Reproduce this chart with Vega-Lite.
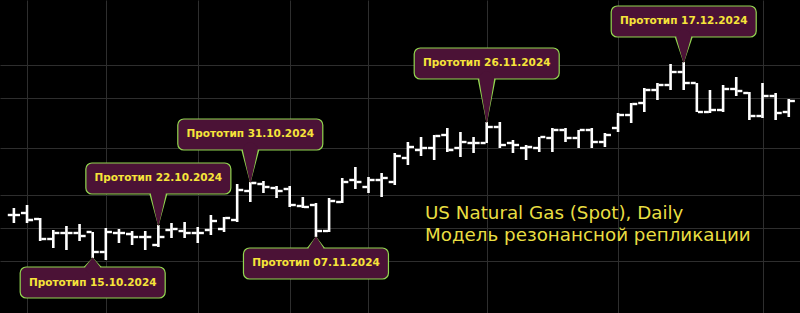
{
  "$schema": "https://vega.github.io/schema/vega-lite/v6.json",
  "width": 800,
  "height": 313,
  "autosize": {"type": "fit", "contains": "padding"},
  "padding": 0,
  "background": "#000000",
  "config": {
    "view": {"stroke": null},
    "axis": {"grid": true, "gridColor": "#2e2e2e", "gridWidth": 1, "labels": false, "ticks": false, "domain": false, "title": null}
  },
  "datasets": {
    "ohlc": [
      {"date": "2024-10-07", "n": 0, "open": 2.186, "high": 2.235, "low": 2.130, "close": 2.186},
      {"date": "2024-10-08", "n": 1, "open": 2.200, "high": 2.256, "low": 2.130, "close": 2.151},
      {"date": "2024-10-09", "n": 2, "open": 2.158, "high": 2.165, "low": 2.004, "close": 2.018},
      {"date": "2024-10-10", "n": 3, "open": 2.018, "high": 2.081, "low": 1.955, "close": 2.060},
      {"date": "2024-10-11", "n": 4, "open": 2.060, "high": 2.109, "low": 1.941, "close": 2.060},
      {"date": "2024-10-14", "n": 5, "open": 2.060, "high": 2.123, "low": 2.004, "close": 2.039},
      {"date": "2024-10-15", "n": 6, "open": 2.067, "high": 2.067, "low": 1.885, "close": 1.927},
      {"date": "2024-10-16", "n": 7, "open": 1.927, "high": 2.095, "low": 1.871, "close": 2.067},
      {"date": "2024-10-17", "n": 8, "open": 2.060, "high": 2.088, "low": 1.990, "close": 2.060},
      {"date": "2024-10-18", "n": 9, "open": 2.053, "high": 2.074, "low": 1.976, "close": 2.032},
      {"date": "2024-10-21", "n": 10, "open": 2.032, "high": 2.074, "low": 1.941, "close": 2.032},
      {"date": "2024-10-22", "n": 11, "open": 1.976, "high": 2.116, "low": 1.962, "close": 2.032},
      {"date": "2024-10-23", "n": 12, "open": 2.081, "high": 2.130, "low": 2.025, "close": 2.088},
      {"date": "2024-10-24", "n": 13, "open": 2.074, "high": 2.137, "low": 2.025, "close": 2.060},
      {"date": "2024-10-25", "n": 14, "open": 2.060, "high": 2.102, "low": 1.990, "close": 2.060},
      {"date": "2024-10-28", "n": 15, "open": 2.081, "high": 2.186, "low": 2.046, "close": 2.144},
      {"date": "2024-10-29", "n": 16, "open": 2.088, "high": 2.172, "low": 2.067, "close": 2.165},
      {"date": "2024-10-30", "n": 17, "open": 2.151, "high": 2.403, "low": 2.137, "close": 2.361},
      {"date": "2024-10-31", "n": 18, "open": 2.354, "high": 2.417, "low": 2.277, "close": 2.410},
      {"date": "2024-11-01", "n": 19, "open": 2.403, "high": 2.424, "low": 2.340, "close": 2.382},
      {"date": "2024-11-04", "n": 20, "open": 2.375, "high": 2.389, "low": 2.305, "close": 2.354},
      {"date": "2024-11-05", "n": 21, "open": 2.368, "high": 2.389, "low": 2.242, "close": 2.256},
      {"date": "2024-11-06", "n": 22, "open": 2.249, "high": 2.312, "low": 2.235, "close": 2.242},
      {"date": "2024-11-07", "n": 23, "open": 2.256, "high": 2.270, "low": 2.032, "close": 2.074},
      {"date": "2024-11-08", "n": 24, "open": 2.074, "high": 2.305, "low": 2.067, "close": 2.284},
      {"date": "2024-11-11", "n": 25, "open": 2.277, "high": 2.445, "low": 2.270, "close": 2.417},
      {"date": "2024-11-12", "n": 26, "open": 2.431, "high": 2.522, "low": 2.368, "close": 2.417},
      {"date": "2024-11-13", "n": 27, "open": 2.382, "high": 2.452, "low": 2.340, "close": 2.431},
      {"date": "2024-11-14", "n": 28, "open": 2.431, "high": 2.480, "low": 2.312, "close": 2.445},
      {"date": "2024-11-15", "n": 29, "open": 2.417, "high": 2.620, "low": 2.396, "close": 2.599},
      {"date": "2024-11-18", "n": 30, "open": 2.585, "high": 2.697, "low": 2.536, "close": 2.662},
      {"date": "2024-11-19", "n": 31, "open": 2.641, "high": 2.732, "low": 2.599, "close": 2.655},
      {"date": "2024-11-20", "n": 32, "open": 2.655, "high": 2.746, "low": 2.571, "close": 2.739},
      {"date": "2024-11-21", "n": 33, "open": 2.746, "high": 2.795, "low": 2.627, "close": 2.641},
      {"date": "2024-11-22", "n": 34, "open": 2.655, "high": 2.767, "low": 2.592, "close": 2.697},
      {"date": "2024-11-25", "n": 35, "open": 2.690, "high": 2.732, "low": 2.620, "close": 2.690},
      {"date": "2024-11-26", "n": 36, "open": 2.690, "high": 2.837, "low": 2.690, "close": 2.802},
      {"date": "2024-11-27", "n": 37, "open": 2.802, "high": 2.837, "low": 2.655, "close": 2.676},
      {"date": "2024-11-28", "n": 38, "open": 2.690, "high": 2.711, "low": 2.620, "close": 2.676},
      {"date": "2024-11-29", "n": 39, "open": 2.655, "high": 2.676, "low": 2.571, "close": 2.662},
      {"date": "2024-12-02", "n": 40, "open": 2.655, "high": 2.732, "low": 2.627, "close": 2.732},
      {"date": "2024-12-03", "n": 41, "open": 2.725, "high": 2.795, "low": 2.627, "close": 2.781},
      {"date": "2024-12-04", "n": 42, "open": 2.781, "high": 2.795, "low": 2.697, "close": 2.725},
      {"date": "2024-12-05", "n": 43, "open": 2.725, "high": 2.781, "low": 2.655, "close": 2.781},
      {"date": "2024-12-06", "n": 44, "open": 2.781, "high": 2.795, "low": 2.655, "close": 2.697},
      {"date": "2024-12-09", "n": 45, "open": 2.697, "high": 2.760, "low": 2.662, "close": 2.746},
      {"date": "2024-12-10", "n": 46, "open": 2.795, "high": 2.900, "low": 2.767, "close": 2.886},
      {"date": "2024-12-11", "n": 47, "open": 2.886, "high": 2.970, "low": 2.830, "close": 2.963},
      {"date": "2024-12-12", "n": 48, "open": 2.970, "high": 3.075, "low": 2.907, "close": 3.061},
      {"date": "2024-12-13", "n": 49, "open": 3.061, "high": 3.110, "low": 2.991, "close": 3.096},
      {"date": "2024-12-16", "n": 50, "open": 3.096, "high": 3.243, "low": 3.061, "close": 3.187},
      {"date": "2024-12-17", "n": 51, "open": 3.187, "high": 3.257, "low": 3.061, "close": 3.110},
      {"date": "2024-12-18", "n": 52, "open": 3.110, "high": 3.110, "low": 2.907, "close": 2.907},
      {"date": "2024-12-19", "n": 53, "open": 2.907, "high": 3.061, "low": 2.900, "close": 2.921},
      {"date": "2024-12-20", "n": 54, "open": 2.921, "high": 3.096, "low": 2.907, "close": 3.068},
      {"date": "2024-12-23", "n": 55, "open": 3.068, "high": 3.152, "low": 3.019, "close": 3.054},
      {"date": "2024-12-24", "n": 56, "open": 3.040, "high": 3.047, "low": 2.851, "close": 2.879},
      {"date": "2024-12-25", "n": 57, "open": 2.879, "high": 3.110, "low": 2.865, "close": 3.019},
      {"date": "2024-12-26", "n": 58, "open": 3.019, "high": 3.040, "low": 2.851, "close": 2.900},
      {"date": "2024-12-27", "n": 59, "open": 2.907, "high": 2.998, "low": 2.872, "close": 2.984}
    ],
    "callouts": [
      {"label": "Прототип 15.10.2024", "n": 6, "tip": 1.885, "edge": 1.822, "far": 1.605, "mid": 1.712},
      {"label": "Прототип 22.10.2024", "n": 11, "tip": 2.116, "edge": 2.333, "far": 2.550, "mid": 2.443},
      {"label": "Прототип 31.10.2024", "n": 18, "tip": 2.417, "edge": 2.641, "far": 2.858, "mid": 2.751},
      {"label": "Прототип 07.11.2024", "n": 23, "tip": 2.032, "edge": 1.955, "far": 1.738, "mid": 1.848},
      {"label": "Прототип 26.11.2024", "n": 36, "tip": 2.837, "edge": 3.138, "far": 3.355, "mid": 3.248},
      {"label": "Прототип 17.12.2024", "n": 51, "tip": 3.257, "edge": 3.432, "far": 3.649, "mid": 3.542}
    ],
    "caption": [
      {"text": "US Natural Gas (Spot), Daily", "n": 31.3, "price": 2.158},
      {"text": "Модель резонансной репликации", "n": 31.3, "price": 2.004}
    ]
  },
  "layer": [
    {
      "data": {"name": "ohlc"},
      "mark": {"type": "rule", "color": "#ffffff", "strokeWidth": 2.6},
      "encoding": {
        "x": {"field": "n", "type": "quantitative", "scale": {"domain": [-0.677, 59.474], "nice": false, "zero": false}, "axis": {"values": [1, 7, 14, 21, 27, 36, 46, 57]}},
        "y": {"field": "low", "type": "quantitative", "scale": {"domain": [1.5, 3.691], "nice": false, "zero": false}, "axis": {"values": [1.864, 2.095, 2.326, 2.655, 3.005, 3.236]}},
        "y2": {"field": "high"}
      }
    },
    {
      "data": {"name": "ohlc"},
      "mark": {"type": "tick", "orient": "horizontal", "color": "#ffffff", "size": 5, "thickness": 2.4, "xOffset": -3.6, "opacity": 1},
      "encoding": {
        "x": {"field": "n", "type": "quantitative"},
        "y": {"field": "open", "type": "quantitative"}
      }
    },
    {
      "data": {"name": "ohlc"},
      "mark": {"type": "tick", "orient": "horizontal", "color": "#ffffff", "size": 5, "thickness": 2.4, "xOffset": 3.6, "opacity": 1},
      "encoding": {
        "x": {"field": "n", "type": "quantitative"},
        "y": {"field": "close", "type": "quantitative"}
      }
    },
    {
      "data": {"name": "callouts"},
      "transform": [{"fold": ["edge", "tip"], "as": ["end", "price"]}],
      "mark": {"type": "trail", "color": "#92d650"},
      "encoding": {
        "x": {"field": "n", "type": "quantitative"},
        "y": {"field": "price", "type": "quantitative"},
        "detail": {"field": "label"},
        "size": {"condition": {"test": "datum.end === 'tip'", "value": 0}, "value": 18}
      }
    },
    {
      "data": {"name": "callouts"},
      "mark": {"type": "bar", "width": 145, "cornerRadius": 6, "fill": "#4b1236", "stroke": "#92d650", "strokeWidth": 1.2},
      "encoding": {
        "x": {"field": "n", "type": "quantitative"},
        "y": {"field": "edge", "type": "quantitative"},
        "y2": {"field": "far"}
      }
    },
    {
      "data": {"name": "callouts"},
      "transform": [{"fold": ["edge", "tip"], "as": ["end", "price"]}],
      "mark": {"type": "trail", "color": "#4b1236"},
      "encoding": {
        "x": {"field": "n", "type": "quantitative"},
        "y": {"field": "price", "type": "quantitative"},
        "detail": {"field": "label"},
        "size": {"condition": {"test": "datum.end === 'tip'", "value": 0}, "value": 15}
      }
    },
    {
      "data": {"name": "callouts"},
      "mark": {"type": "text", "color": "#f6e43a", "font": "DejaVu Sans", "fontWeight": "bold", "fontSize": 10.5, "align": "center", "baseline": "middle"},
      "encoding": {
        "x": {"field": "n", "type": "quantitative"},
        "y": {"field": "mid", "type": "quantitative"},
        "text": {"field": "label"}
      }
    },
    {
      "data": {"name": "caption"},
      "mark": {"type": "text", "color": "#e9de42", "font": "DejaVu Sans", "fontSize": 18.3, "align": "left", "baseline": "alphabetic"},
      "encoding": {
        "x": {"field": "n", "type": "quantitative"},
        "y": {"field": "price", "type": "quantitative"},
        "text": {"field": "text"}
      }
    }
  ]
}
